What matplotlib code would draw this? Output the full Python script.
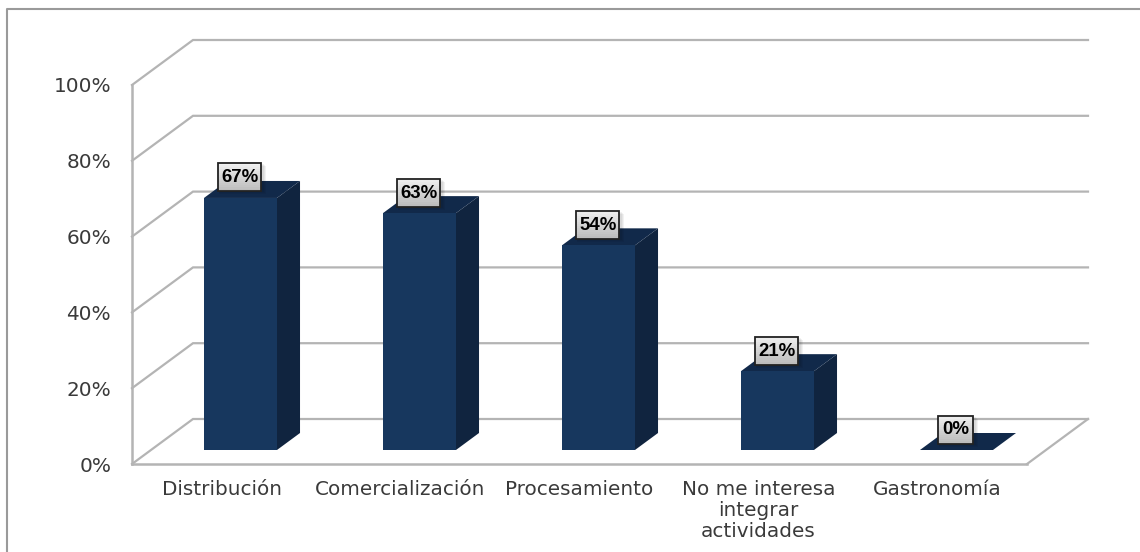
import matplotlib
matplotlib.use("Agg")
import matplotlib.pyplot as plt
from matplotlib.patches import Rectangle, Polygon
from matplotlib.transforms import Affine2D

categories = ["Distribución", "Comercialización", "Procesamiento",
              "No me interesa\nintegrar\nactividades", "Gastronomía"]
values = [66.5, 62.5, 54, 20.8, 0]
value_labels = ["67%", "63%", "54%", "21%", "0%"]
y_ticks = [0, 20, 40, 60, 80, 100]
y_tick_labels = ["0%", "20%", "40%", "60%", "80%", "100%"]

W, H = 1140, 552
fig = plt.figure(figsize=(W / 100, H / 100), dpi=100, facecolor="white")
L, R, T, B = 132, 1027, 85, 464
ax = fig.add_axes([L / W, 1 - B / H, (R - L) / W, (B - T) / H])
ax.set_xlim(0, len(categories))
ax.set_ylim(0, 100)
ax.patch.set_visible(False)

GRID = "#b4b4b4"
TXT = "#3a3a3a"
px_x = (R - L) / len(categories)
px_y = (B - T) / 100
back_dx, back_dy = 61 / px_x, 45 / px_y   # depth of the 3-D box in data units

# frame round the picture: open on the right and at the bottom
fig.add_artist(plt.Line2D([6.5 / W, 6.5 / W, 1.0], [0, 1 - 9 / H, 1 - 9 / H],
                          transform=fig.transFigure, color="#9a9a9a", lw=1.5))

# walls and gridlines
for v in y_ticks:
    ax.plot([0, back_dx, len(categories) + back_dx], [v, v + back_dy, v + back_dy],
            color=GRID, lw=1.6, clip_on=False, zorder=1, solid_joinstyle="miter")
ax.plot([len(categories), len(categories) + back_dx], [0, back_dy],
        color=GRID, lw=1.6, clip_on=False, zorder=1)

# bars
d0, d1 = 14 / 45, 31 / 45      # front and back of each bar, as part of the depth
half = 36.5 / px_x
C_FRONT, C_SIDE, C_TOP = "#17375e", "#10243f", "#11294a"
BOX_W, BOX_H = 43, 28          # value label box, pixels
fig.canvas.draw()
for i, v in enumerate(values):
    xc = i + 0.5 + d0 * back_dx
    y0 = d0 * back_dy
    sx = (d1 - d0) * back_dx
    sy = (d1 - d0) * back_dy
    xl, xr = xc - half, xc + half
    ax.add_patch(Polygon([(xr, y0), (xr + sx, y0 + sy), (xr + sx, y0 + sy + v), (xr, y0 + v)],
                         closed=True, fc=C_SIDE, ec="none", clip_on=False, zorder=3))
    ax.add_patch(Polygon([(xl, y0 + v), (xr, y0 + v), (xr + sx, y0 + sy + v), (xl + sx, y0 + sy + v)],
                         closed=True, fc=C_TOP, ec="none", clip_on=False, zorder=3))
    if v > 0:
        ax.add_patch(Rectangle((xl, y0), xr - xl, v, fc=C_FRONT, ec="none",
                               clip_on=False, zorder=4))
    # value label: box with soft shadow and a light-to-grey gradient, centred over the bar
    px, py = ax.transData.transform((xc, y0 + v))
    box = Affine2D().translate(px - 0.5, py + 20.5)
    bw = BOX_W if len(value_labels[i]) > 2 else 35
    for k in (4, 3, 2):
        ax.add_patch(Rectangle((-bw / 2 + 1, -BOX_H / 2 - k + 1), bw + k, BOX_H, transform=box,
                               fc="#000000", ec="none", alpha=0.05, clip_on=False, zorder=5))
    n = 14
    for k in range(n):
        g = 0.94 - 0.20 * k / (n - 1)
        ax.add_patch(Rectangle((-bw / 2, BOX_H / 2 - (k + 1) * BOX_H / n), bw, BOX_H / n + 0.5,
                               transform=box, fc=(g, g, g), ec="none", clip_on=False, zorder=5.1))
    ax.add_patch(Rectangle((-bw / 2, -BOX_H / 2), bw, BOX_H, transform=box, fill=False,
                           ec="#222222", lw=1.3, clip_on=False, zorder=5.2))
    ax.text(0, -0.5, value_labels[i], transform=box, ha="center", va="center", fontsize=13.4,
            fontweight="bold", family="Liberation Sans", color="black", zorder=6, clip_on=False)

# axes
for s in ("top", "right"):
    ax.spines[s].set_visible(False)
for s in ("left", "bottom"):
    ax.spines[s].set_color(GRID)
    ax.spines[s].set_linewidth(1.8)
    ax.spines[s].set_zorder(2)
ax.set_yticks(y_ticks, y_tick_labels)
ax.set_xticks([i + 0.5 for i in range(len(categories))], categories)
ax.tick_params(axis="both", length=0, labelsize=14.4, labelcolor=TXT)
ax.tick_params(axis="y", pad=15)
ax.tick_params(axis="x", pad=11.5)
for t in ax.get_xticklabels():
    t.set_linespacing(1.12)
for t in ax.get_yticklabels():
    t.set_verticalalignment("center_baseline")

fig.savefig("out.png", dpi=100)
